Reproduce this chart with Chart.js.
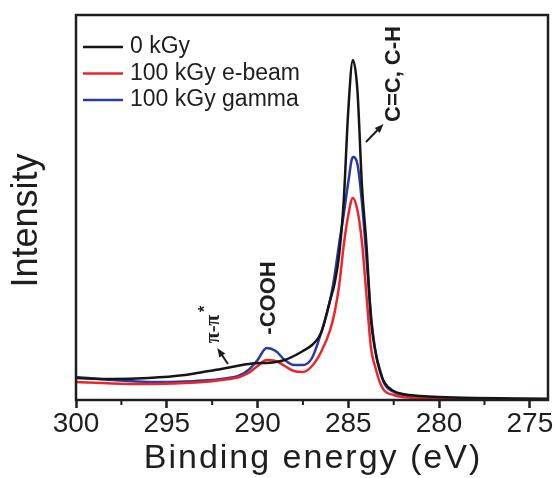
<!DOCTYPE html>
<html>
<head>
<meta charset="utf-8">
<script src="https://cdn.jsdelivr.net/npm/chart.js@4.4.1/dist/chart.umd.min.js"></script>
<style>
  html, body { margin: 0; padding: 0; background: #fff; }
  #wrap { width: 554px; height: 478px; }
</style>
</head>
<body>
<div id="wrap"><canvas id="xpsChart"></canvas></div>
<script>
// C 1s spectra, intensity in arbitrary units
const energies = [300, 298, 296, 294, 293, 292, 291, 290.5, 290, 289.5, 289, 288.5, 288, 287.5, 287, 286.5, 286, 285.75, 285.5, 285.25, 285, 284.75, 284.5, 284.25, 284, 283.75, 283.5, 283.25, 283, 282.5, 282, 281, 280, 278, 276, 274];
const kGy0 = [22, 21, 22, 25, 28, 31, 34.5, 36, 37, 37, 38, 40, 44, 49, 55, 67, 100, 117, 146, 200, 290, 340, 310, 215, 155, 80, 48, 28, 17, 9, 6, 4, 3, 2, 1.5, 1];
const eBeam = [18, 16.5, 16, 17, 18, 20, 23, 27, 34, 40, 39, 34, 29, 28, 34, 48, 70, 88, 115, 155, 185, 202, 190, 158, 105, 52, 32, 17, 9, 5, 3, 2, 1.5, 1, 1, 1];
const gamma = [23, 20, 18, 18.5, 19.5, 21, 24.5, 30, 40, 52, 49, 40, 35, 35, 42, 67, 100, 125, 157, 186, 218, 243, 236, 198, 142, 85, 48, 30, 16, 8, 5, 3, 2, 1.5, 1, 1];

const seriesLabels = ['0 kGy', '100 kGy e-beam', '100 kGy gamma'];
const xTicks = [300, 295, 290, 285, 280, 275];
const xMinorTicks = [297.5, 292.5, 287.5, 282.5, 277.5];

const ink = '#1e1e1e';
const colors = ['#151515', '#e8262c', '#2b3a9e'];

// peak labels, anchored in data units (energy, intensity)
const notes = [
  { text: 'C=C, C-H', e: 282.5, i: 326, arrow: [284.03, 258, 283.06, 276] },
  { text: '-COOH', e: 289.35, i: 102 },
  { text: 'π-π', star: true, e: 292.4, i: 74, arrow: [291.63, 36, 292.22, 52] }
];

function toPoints(vals) {
  return energies.map((e, k) => ({ x: e, y: vals[k] }));
}

function arrow(ctx, x0, y0, x1, y1) {
  const ang = Math.atan2(y1 - y0, x1 - x0);
  ctx.beginPath();
  ctx.moveTo(x0, y0);
  ctx.lineTo(x1 - 5 * Math.cos(ang), y1 - 5 * Math.sin(ang));
  ctx.stroke();
  ctx.save();
  ctx.translate(x1, y1);
  ctx.rotate(ang);
  ctx.beginPath();
  ctx.moveTo(0, 0);
  ctx.lineTo(-9, -3.5);
  ctx.lineTo(-9, 3.5);
  ctx.closePath();
  ctx.fill();
  ctx.restore();
}

const extras = {
  id: 'extras',
  afterDatasetsDraw(chart) {
    const { ctx, chartArea: a, scales: { x, y } } = chart;
    ctx.save();
    ctx.strokeStyle = ink;
    ctx.fillStyle = ink;

    // frame
    ctx.lineWidth = 2.5;
    ctx.strokeRect(a.left, a.top, a.right - a.left, a.bottom - a.top);

    // minor ticks
    ctx.lineWidth = 2;
    xMinorTicks.forEach(v => {
      const px = x.getPixelForValue(v);
      ctx.beginPath();
      ctx.moveTo(px, a.bottom);
      ctx.lineTo(px, a.bottom + 5);
      ctx.stroke();
    });

    // legend
    ctx.font = '23px "Liberation Sans", Arial, sans-serif';
    ctx.textBaseline = 'middle';
    ctx.textAlign = 'left';
    chart.data.datasets.forEach((ds, k) => {
      const yy = a.top + 32 + k * 26.5;
      ctx.strokeStyle = ds.borderColor;
      ctx.lineWidth = 2.5;
      ctx.beginPath();
      ctx.moveTo(a.left + 7, yy);
      ctx.lineTo(a.left + 47, yy);
      ctx.stroke();
      ctx.fillStyle = ink;
      ctx.fillText(ds.label, a.left + 54, yy);
    });

    // axis titles
    ctx.save();
    ctx.translate(a.left - 49, (a.top + a.bottom) / 2 + 13);
    ctx.rotate(-Math.PI / 2);
    ctx.textAlign = 'center';
    ctx.font = '36px "Liberation Sans", Arial, sans-serif';
    ctx.fillText('Intensity', 0, 0);
    ctx.restore();

    ctx.save();
    ctx.textAlign = 'center';
    ctx.textBaseline = 'alphabetic';
    ctx.font = '34px "Liberation Sans", Arial, sans-serif';
    ctx.letterSpacing = '2px';
    ctx.fillText('Binding energy (eV)', (a.left + a.right) / 2 + 1, a.bottom + 68);
    ctx.restore();

    // peak notes
    ctx.strokeStyle = ink;
    ctx.fillStyle = ink;
    ctx.lineWidth = 2;
    notes.forEach(n => {
      ctx.save();
      ctx.translate(x.getPixelForValue(n.e), y.getPixelForValue(n.i));
      ctx.rotate(-Math.PI / 2);
      ctx.textAlign = 'center';
      if (n.star) {
        ctx.font = 'bold 20px "Liberation Serif", serif';
        ctx.fillText(n.text, -3, 0);
        ctx.font = 'bold 16px "Liberation Sans", sans-serif';
        ctx.fillText('*', 17, -8);
      } else {
        ctx.font = 'bold 22px "Liberation Sans", Arial, sans-serif';
        ctx.fillText(n.text, 0, 0);
      }
      ctx.restore();
      if (n.arrow) {
        const [e0, i0, e1, i1] = n.arrow;
        arrow(ctx, x.getPixelForValue(e0), y.getPixelForValue(i0), x.getPixelForValue(e1), y.getPixelForValue(i1));
      }
    });
    ctx.restore();
  }
};

const ctx = document.getElementById('xpsChart').getContext('2d');
new Chart(ctx, {
  type: 'line',
  data: {
    datasets: [
      { label: seriesLabels[0], data: toPoints(kGy0), borderColor: colors[0] },
      { label: seriesLabels[1], data: toPoints(eBeam), borderColor: colors[1] },
      { label: seriesLabels[2], data: toPoints(gamma), borderColor: colors[2] }
    ].map(ds => Object.assign(ds, {
      borderWidth: 2.5,
      pointRadius: 0,
      fill: false,
      cubicInterpolationMode: 'monotone'
    }))
  },
  options: {
    responsive: true,
    maintainAspectRatio: false,
    animation: false,
    layout: { padding: { left: 76, right: 6, top: 15, bottom: 0 } },
    plugins: {
      legend: { display: false },
      tooltip: { enabled: false }
    },
    scales: {
      x: {
        type: 'linear',
        reverse: true,
        min: 274,
        max: 300,
        afterBuildTicks: s => { s.ticks = xTicks.map(v => ({ value: v })); },
        afterFit: s => { s.height = 78; },
        border: { display: false },
        grid: {
          drawOnChartArea: false,
          drawTicks: true,
          tickLength: 8,
          tickWidth: 2.5,
          tickColor: ink
        },
        ticks: {
          color: ink,
          padding: -1,
          maxRotation: 0,
          font: { family: '"Liberation Sans", Arial, sans-serif', size: 28 }
        },
        title: { display: false }
      },
      y: {
        display: false,
        min: 0,
        max: 385
      }
    }
  },
  plugins: [extras]
});
</script>
</body>
</html>
